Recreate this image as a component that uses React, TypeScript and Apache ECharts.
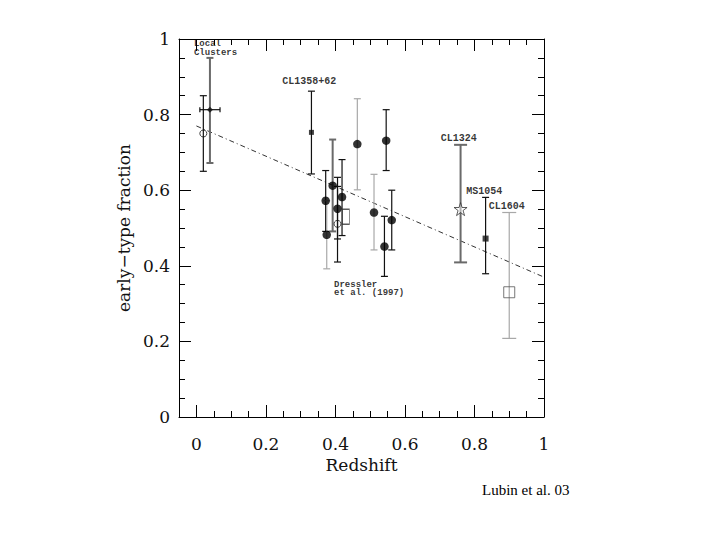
import React, { useEffect, useRef } from "react";
import * as echarts from "echarts";

// ---- tick values ----
const xMajorTicks = [0, 0.2, 0.4, 0.6, 0.8, 1];
const yMajorTicks = [0, 0.2, 0.4, 0.6, 0.8, 1];

// ---- Local clusters ----
const localOpenZ = [0.02];
const localOpenF = [0.75];
const localOpenLo = [0.65];
const localOpenHi = [0.85];

const localFilledZ = [0.039];
const localFilledF = [0.813];
const localFilledLo = [0.672];
const localFilledHi = [0.95];
const localFilledZLo = [0.01];
const localFilledZHi = [0.068];

// ---- CL1358+62 ----
const cl1358Z = [0.331];
const cl1358F = [0.753];
const cl1358Lo = [0.643];
const cl1358Hi = [0.862];

// ---- Dressler et al. (1997) ----
const dresslerZ = [0.372, 0.375, 0.392, 0.406, 0.419, 0.463, 0.546, 0.511, 0.541, 0.562];
const dresslerF = [0.572, 0.482, 0.612, 0.551, 0.582, 0.722, 0.731, 0.541, 0.451, 0.521];
const dresslerLo = [0.491, 0.392, 0.491, 0.471, 0.48, 0.601, 0.652, 0.442, 0.372, 0.442];
const dresslerHi = [0.652, 0.572, 0.734, 0.634, 0.681, 0.842, 0.813, 0.642, 0.531, 0.6];
const dresslerTone = ["k", "l", "d", "k", "k", "l", "k", "l", "k", "k"];

const dresslerOpenZ = [0.406];
const dresslerOpenF = [0.511];
const dresslerOpenLo = [0.41];
const dresslerOpenHi = [0.61];

const dresslerBoxZ = [0.43];
const dresslerBoxF = [0.53];

// ---- distant clusters ----
const cl1324Z = [0.76];
const cl1324F = [0.55];
const cl1324Lo = [0.409];
const cl1324Hi = [0.72];

const ms1054Z = [0.832];
const ms1054F = [0.472];
const ms1054Lo = [0.379];
const ms1054Hi = [0.581];

const cl1604Z = [0.9];
const cl1604F = [0.33];
const cl1604Lo = [0.208];
const cl1604Hi = [0.541];

// ---- trend line ----
const trendZ = [0, 1];
const trendF = [0.77, 0.37];

// ---- annotations ----
const annoText = ["Local\nClusters", "CL1358+62", "Dressler\net al. (1997)", "CL1324", "MS1054", "CL1604"];
const annoZ = [-0.007, 0.325, 0.396, 0.755, 0.828, 0.893];
const annoF = [0.975, 0.888, 0.338, 0.738, 0.597, 0.557];
const annoLeftAligned = [true, false, true, false, false, false];

const toneIndex: Record<string, number> = { k: 0, d: 1, l: 2 };
const toneStyles = [
  { stroke: "#111111", lineWidth: 1.2 },
  { stroke: "#6a6a6a", lineWidth: 2 },
  { stroke: "#a8a8a8", lineWidth: 1.2 },
];

const STAR = "path://M50,2 L61,36 L97,36 L68,57 L79,92 L50,71 L21,92 L32,57 L3,36 L39,36 Z";
const SERIF = "DejaVu Serif";
const MONO = "Liberation Mono";

function errData(z: number[], lo: number[], hi: number[], tone: string[] | string) {
  return z.map((x, i) => [x, lo[i], hi[i], toneIndex[Array.isArray(tone) ? tone[i] : tone]]);
}

function makeErr(name: string, data: number[][], cap: number) {
  return {
    name,
    type: "custom",
    z: 2,
    silent: true,
    encode: { x: 0, y: [1, 2] },
    data,
    renderItem: (_p: any, api: any) => {
      const x = api.value(0);
      const lo = api.value(1);
      const hi = api.value(2);
      const st = toneStyles[api.value(3)];
      const a = api.coord([x, lo]);
      const b = api.coord([x, hi]);
      const style = { stroke: st.stroke, lineWidth: st.lineWidth, fill: "none" };
      return {
        type: "group",
        children: [
          { type: "line", shape: { x1: a[0], y1: a[1], x2: b[0], y2: b[1] }, style },
          { type: "line", shape: { x1: a[0] - cap, y1: a[1], x2: a[0] + cap, y2: a[1] }, style },
          { type: "line", shape: { x1: b[0] - cap, y1: b[1], x2: b[0] + cap, y2: b[1] }, style },
        ],
      };
    },
  };
}

function makeXErr(name: string, data: number[][], cap: number) {
  return {
    name,
    type: "custom",
    z: 2,
    silent: true,
    encode: { x: [1, 2], y: 0 },
    data,
    renderItem: (_p: any, api: any) => {
      const y = api.value(0);
      const lo = api.value(1);
      const hi = api.value(2);
      const st = toneStyles[api.value(3)];
      const a = api.coord([lo, y]);
      const b = api.coord([hi, y]);
      const style = { stroke: st.stroke, lineWidth: st.lineWidth, fill: "none" };
      return {
        type: "group",
        children: [
          { type: "line", shape: { x1: a[0], y1: a[1], x2: b[0], y2: b[1] }, style },
          { type: "line", shape: { x1: a[0], y1: a[1] - cap, x2: a[0], y2: a[1] + cap }, style },
          { type: "line", shape: { x1: b[0], y1: b[1] - cap, x2: b[0], y2: b[1] + cap }, style },
        ],
      };
    },
  };
}

function pts(z: number[], f: number[]) {
  return z.map((x, i) => [x, f[i]]);
}

function scatter(name: string, data: number[][], symbol: string, size: any, itemStyle: any) {
  return { name, type: "scatter", z: 3, silent: true, data, symbol, symbolSize: size, itemStyle };
}

const isMajor = (v: number) => Math.abs(v / 0.2 - Math.round(v / 0.2)) < 1e-6;
const fmt = (v: number) => (isMajor(v) ? String(+v.toFixed(2)) : "");

export default function App() {
  const ref = useRef<HTMLDivElement>(null);
  useEffect(() => {
    document.body.style.margin = "0";
    if (!ref.current) return;
    const chart = echarts.init(ref.current, undefined, { renderer: "svg" });

    const axisLineStyle = { color: "#000", width: 1 };
    const tickStyle = { color: "#000", width: 1 };

    const xBase = { type: "value", min: -0.05, max: 1, splitLine: { show: false } };
    const yBase = { type: "value", min: 0, max: 1, splitLine: { show: false } };

    const option: any = {
      animation: false,
      backgroundColor: "#ffffff",
      grid: { left: 179, right: 176, top: 39, bottom: 123, containLabel: false },
      xAxis: [
        {
          ...xBase,
          position: "bottom",
          interval: 0.05,
          axisLine: { show: true, onZero: false, lineStyle: axisLineStyle },
          axisTick: { show: true, inside: true, length: 6, lineStyle: tickStyle },
          axisLabel: {
            show: true,
            formatter: fmt,
            margin: 18,
            fontFamily: SERIF,
            fontSize: 17,
            color: "#111",
          },
          name: "Redshift",
          nameLocation: "middle",
          nameGap: 36,
          nameTextStyle: { fontFamily: SERIF, fontSize: 17, color: "#111" },
        },
        {
          ...xBase,
          position: "bottom",
          axisLine: { show: false, onZero: false },
          axisTick: { show: true, inside: true, length: 12, lineStyle: tickStyle, customValues: xMajorTicks },
          axisLabel: { show: false },
        },
        {
          ...xBase,
          position: "top",
          interval: 0.05,
          axisLine: { show: true, onZero: false, lineStyle: axisLineStyle },
          axisTick: { show: true, inside: true, length: 6, lineStyle: tickStyle },
          axisLabel: { show: false },
        },
        {
          ...xBase,
          position: "top",
          axisLine: { show: false, onZero: false },
          axisTick: { show: true, inside: true, length: 12, lineStyle: tickStyle, customValues: xMajorTicks },
          axisLabel: { show: false },
        },
      ],
      yAxis: [
        {
          ...yBase,
          position: "left",
          interval: 0.2,
          axisLine: { show: true, onZero: false, lineStyle: axisLineStyle },
          axisTick: { show: true, inside: true, length: 12, lineStyle: tickStyle },
          axisLabel: {
            show: true,
            customValues: yMajorTicks,
            formatter: fmt,
            margin: 9,
            fontFamily: SERIF,
            fontSize: 17,
            color: "#111",
          },
          name: "early\u2212type fraction",
          nameLocation: "middle",
          nameGap: 46,
          nameTextStyle: { fontFamily: SERIF, fontSize: 17, color: "#111" },
        },
        {
          ...yBase,
          position: "left",
          interval: 0.05,
          axisLine: { show: false, onZero: false },
          axisTick: { show: true, inside: true, length: 6, lineStyle: tickStyle },
          axisLabel: { show: false },
        },
        {
          ...yBase,
          position: "right",
          interval: 0.2,
          axisLine: { show: true, onZero: false, lineStyle: axisLineStyle },
          axisTick: { show: true, inside: true, length: 12, lineStyle: tickStyle },
          axisLabel: { show: false },
        },
        {
          ...yBase,
          position: "right",
          interval: 0.05,
          axisLine: { show: false, onZero: false },
          axisTick: { show: true, inside: true, length: 6, lineStyle: tickStyle },
          axisLabel: { show: false },
        },
      ],
      series: [
        {
          name: "trend",
          type: "line",
          z: 1,
          silent: true,
          symbol: "none",
          data: pts(trendZ, trendF),
          lineStyle: { color: "#333", width: 1, type: [5, 3, 1, 3] },
        },
        makeErr("local-open-err", errData(localOpenZ, localOpenLo, localOpenHi, "k"), 3.5),
        makeErr("local-filled-err", errData(localFilledZ, localFilledLo, localFilledHi, "d"), 3.5),
        makeXErr("local-filled-xerr", errData(localFilledF, localFilledZLo, localFilledZHi, "k"), 2.5),
        makeErr("cl1358-err", errData(cl1358Z, cl1358Lo, cl1358Hi, "k"), 3.5),
        makeErr("dressler-err", errData(dresslerZ, dresslerLo, dresslerHi, dresslerTone), 3.5),
        makeErr("dressler-open-err", errData(dresslerOpenZ, dresslerOpenLo, dresslerOpenHi, "k"), 3.5),
        makeErr("cl1324-err", errData(cl1324Z, cl1324Lo, cl1324Hi, "d"), 6.5),
        makeErr("ms1054-err", errData(ms1054Z, ms1054Lo, ms1054Hi, "k"), 3.5),
        makeErr("cl1604-err", errData(cl1604Z, cl1604Lo, cl1604Hi, "l"), 7),
        scatter("local-open", pts(localOpenZ, localOpenF), "circle", 7, {
          color: "rgba(0,0,0,0)",
          borderColor: "#111",
          borderWidth: 1,
        }),
        scatter("local-filled", pts(localFilledZ, localFilledF), "diamond", 6, { color: "#111" }),
        scatter("cl1358", pts(cl1358Z, cl1358F), "rect", 5, { color: "#111" }),
        scatter("dressler", pts(dresslerZ, dresslerF), "circle", 8.5, { color: "#000" }),
        scatter("dressler-open", pts(dresslerOpenZ, dresslerOpenF), "circle", 7, {
          color: "rgba(0,0,0,0)",
          borderColor: "#111",
          borderWidth: 1,
        }),
        scatter("dressler-box", pts(dresslerBoxZ, dresslerBoxF), "rect", [7, 15], {
          color: "rgba(0,0,0,0)",
          borderColor: "#333",
          borderWidth: 1,
        }),
        scatter("cl1324", pts(cl1324Z, cl1324F), STAR, 13, {
          color: "rgba(255,255,255,0.6)",
          borderColor: "#333",
          borderWidth: 1,
        }),
        scatter("ms1054", pts(ms1054Z, ms1054F), "rect", 6, { color: "#111" }),
        scatter("cl1604", pts(cl1604Z, cl1604F), "rect", 11, {
          color: "rgba(255,255,255,0)",
          borderColor: "#555",
          borderWidth: 1,
        }),
        {
          name: "annotations",
          type: "scatter",
          z: 4,
          silent: true,
          symbolSize: 0,
          itemStyle: { color: "#000" },
          data: annoText.map((t, i) => ({
            name: t,
            value: [annoZ[i], annoF[i]],
            label: {
              show: true,
              formatter: "{b}",
              position: annoLeftAligned[i] ? "right" : "inside",
              distance: 0,
              fontFamily: MONO,
              fontSize: annoLeftAligned[i] ? 9 : 10,
              fontWeight: "bold",
              lineHeight: annoLeftAligned[i] ? 8.5 : 10,
              color: "#000",
              textBorderWidth: 0,
              textBorderColor: "transparent",
            },
          })),
        },
      ],
      graphic: [
        {
          type: "text",
          left: 482,
          top: 482,
          style: {
            text: "Lubin et al. 03",
            fontFamily: "Liberation Serif",
            fontSize: 15,
            fill: "#000",
          },
        },
      ],
    };
    chart.setOption(option);
    return () => chart.dispose();
  }, []);
  return <div ref={ref} style={{ width: 720, height: 540 }} />;
}
